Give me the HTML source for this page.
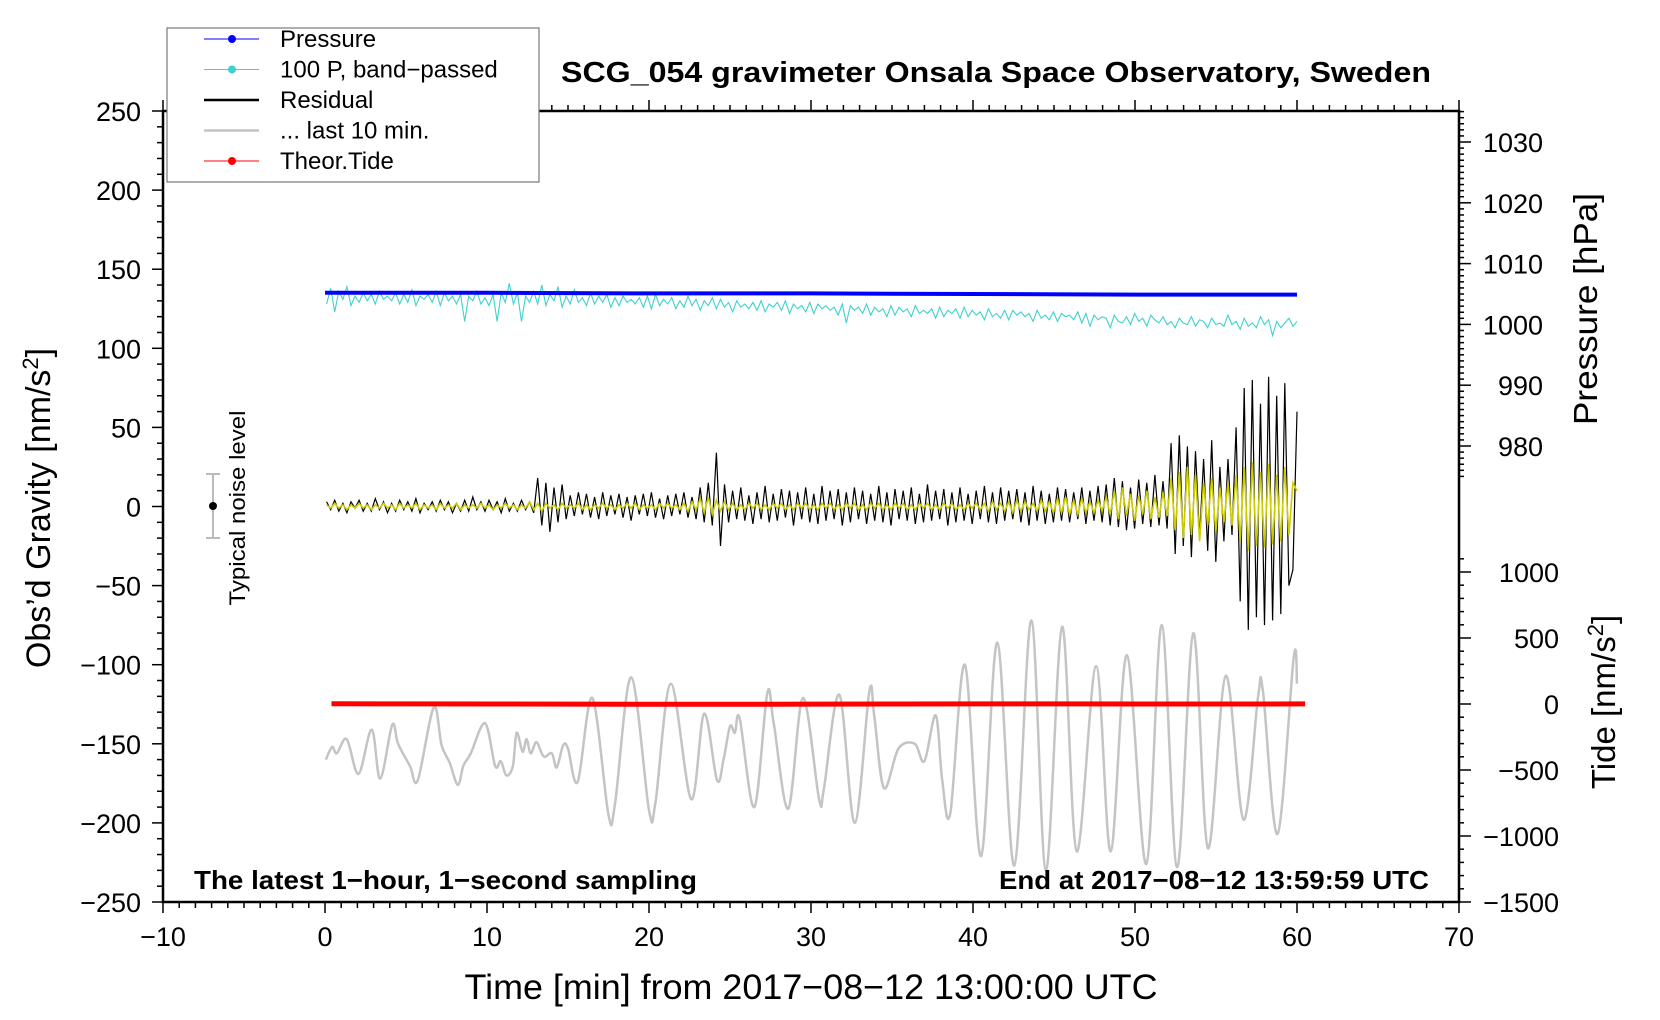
<!DOCTYPE html>
<html><head><meta charset="utf-8"><title>SCG_054 gravimeter</title>
<style>
html,body{margin:0;padding:0;background:#fff;}
svg{display:block;font-family:"Liberation Sans",Arial,sans-serif;}
</style></head>
<body>
<svg id="chart" width="1660" height="1020" viewBox="0 0 1660 1020" xmlns="http://www.w3.org/2000/svg">
<rect x="0" y="0" width="1660" height="1020" fill="#fff"/>
<g id="grid-layer"></g>
<g id="series-layer"></g>
<g id="axes-layer"></g>
<text x="996" y="82" text-anchor="middle" font-size="29" font-weight="bold" textLength="870" lengthAdjust="spacingAndGlyphs">SCG_054 gravimeter Onsala Space Observatory, Sweden</text>
<text x="811" y="999" text-anchor="middle" font-size="35" textLength="693" lengthAdjust="spacingAndGlyphs">Time [min] from 2017−08−12 13:00:00 UTC</text>
<text transform="translate(50,508) rotate(-90)" text-anchor="middle" font-size="34">Obs’d Gravity [nm/s<tspan font-size="22" dy="-12">2</tspan><tspan dy="12">]</tspan></text>
<text transform="translate(1597,309) rotate(-90)" text-anchor="middle" font-size="33" textLength="232" lengthAdjust="spacingAndGlyphs">Pressure [hPa]</text>
<text transform="translate(1615,702) rotate(-90)" text-anchor="middle" font-size="33">Tide [nm/s<tspan font-size="22" dy="-12">2</tspan><tspan dy="12">]</tspan></text>
<text x="194" y="889" font-size="26" font-weight="bold" textLength="503" lengthAdjust="spacingAndGlyphs">The latest 1−hour, 1−second sampling</text>
<text x="1429" y="889" text-anchor="end" font-size="26" font-weight="bold" textLength="430" lengthAdjust="spacingAndGlyphs">End at 2017−08−12 13:59:59 UTC</text>
<g>
<line x1="213" y1="474" x2="213" y2="538" stroke="#bbb" stroke-width="2"/>
<line x1="206" y1="474" x2="220" y2="474" stroke="#bbb" stroke-width="2"/>
<line x1="206" y1="538" x2="220" y2="538" stroke="#bbb" stroke-width="2"/>
<circle cx="213" cy="506" r="4" fill="#000"/>
<text transform="translate(245,508) rotate(-90)" text-anchor="middle" font-size="22" textLength="195" lengthAdjust="spacingAndGlyphs">Typical noise level</text>
</g>
<g id="legend">
<rect x="167" y="28" width="372" height="154" fill="#fff" stroke="#777" stroke-width="1.2"/>
</g>
</svg>
<script>
// ---- data ----
const pressureValues = [1005.2,1005.2,1005.1,1005.1,1005.0,1004.9,1004.9];
const tideValues = [2,1,0,-1,-2,-2,-1,0,1,1,0,0,1];
const residualValues = [3,-2,4,-3,2,-4,3,-1,4,-3,2,-3,5,-2,3,-4,2,-3,4,-2,3,-3,5,-4,2,-2,3,-3,4,-2,3,-4,2,-3,4,-3,6,-2,3,-3,4,-2,3,-4,5,-3,2,-3,4,-2,3,-4,
18,-12,15,-16,12,-10,14,-8,
7,-6,9,-5,8,-7,6,-8,9,-6,7,-5,8,-7,6,-9,7,-5,8,-6,9,-7,5,-8,7,-6,8,-5,9,-7,6,-8,
12,-10,15,-12,34,-25,14,-10,
10,-8,12,-9,7,-11,9,-8,13,-10,8,-9,11,-7,10,-12,9,-8,12,-10,8,-11,13,-9,10,-8,11,-12,9,-10,12,-8,10,-11,8,-9,13,-10,9,-12,11,-8,10,-9,12,-11,8,-10,14,-9,10,-8,11,-12,9,-10,12,-9,8,-11,10,-8,13,-10,9,-11,12,-9,10,-8,11,-10,9,-12,13,-9,10,-11,8,-10,12,-9,11,-10,9,-8,12,-11,10,-9,13,-10,
14,-12,18,-13,16,-15,12,-14,17,-11,15,-13,20,-12,16,-14,
40,-30,45,-25,38,-32,35,-20,30,-28,42,-35,25,-22,30,-18,
50,-60,75,-78,80,-70,65,-75,82,-72,70,-68,78,-50,-40,60];
const filteredValues = [1,-1,2,-1,1,-2,1,-1,2,-1,1,-2,1,-1,2,-1,1,-2,2,-1,1,-1,2,-2,1,-1,1,-2,2,-1,1,-1,2,-2,1,-1,1,-1,2,-1,
1,-2,1,-1,2,-1,1,-2,1,-1,3,-2,2,-3,2,-1,1,-2,2,-1,1,-1,2,-2,1,-2,1,-1,2,-1,1,-2,1,-1,2,-1,2,-2,1,-1,
1,-2,2,-1,2,-1,1,-2,2,-3,3,-2,5,-4,6,-5,4,-3,3,-2,2,-2,1,-2,2,-1,2,-2,1,-2,2,-1,2,-2,1,-2,2,-1,2,-2,
1,-2,2,-1,2,-2,1,-2,2,-1,2,-2,1,-2,2,-1,2,-2,1,-2,2,-1,2,-2,1,-2,2,-1,2,-2,1,-2,2,-1,2,-2,1,-2,2,-1,
2,-2,2,-3,3,-2,2,-3,3,-4,4,-3,3,-2,2,-3,4,-3,3,-4,5,-4,6,-5,4,-5,5,-4,3,-4,4,-3,
6,-5,10,-8,12,-6,8,-9,7,-5,10,-8,6,-7,9,-6,
18,-15,22,-20,25,-18,20,-22,15,-12,18,-16,12,-10,15,-12,
20,-22,25,-28,28,-25,22,-26,27,-24,20,-22,25,-18,15,10];
const bandPassedValues = [128,138,123,136,131,139,127,133,129,135,130,134,128,136,131,133,130,135,128,134,129,137,127,133,131,134,129,136,127,135,130,133,128,134,117,133,130,136,128,132,
127,134,117,135,129,141,128,135,117,133,129,136,128,140,127,134,130,139,126,133,128,137,129,132,127,135,128,133,129,134,126,132,127,133,129,131,128,132,126,133,
125,134,127,131,128,132,125,130,126,133,127,131,124,130,127,132,125,131,126,129,123,130,126,128,125,129,124,130,123,128,126,129,124,130,122,128,125,127,123,129,
122,128,125,127,124,126,121,128,116,127,124,126,122,128,121,126,123,125,120,127,121,126,123,125,120,127,122,124,122,125,119,126,120,124,122,125,119,126,120,124,
121,123,118,125,120,122,119,124,118,124,121,123,120,122,117,124,119,121,118,123,117,122,120,121,118,123,116,122,114,121,118,120,119,113,121,117,116,120,115,122,
117,119,114,121,118,116,120,115,117,113,119,116,115,120,114,118,117,113,119,115,116,114,121,115,117,112,119,114,116,113,120,115,118,108,117,113,116,119,114,117];
const last10Times = [0.05,0.44,0.73,1.34,2.07,2.88,3.41,4.15,4.51,5.24,5.73,6.71,7.2,7.7,8.2,8.54,9.0,9.88,10.5,10.85,11.2,11.6,11.83,12.2,12.44,12.7,13.05,13.5,14.0,14.3,14.7,15.0,15.6,16.5,17.5,17.9,18.9,20.0,20.4,21.35,22.6,23.4,24.2,24.6,25.0,25.3,25.6,26.5,27.3,27.7,28.6,29.5,30.5,30.8,31.75,32.7,33.6,33.9,34.5,35.4,36.4,37.0,37.7,38.1,38.6,39.5,40.5,41.5,42.55,43.6,44.5,45.5,46.4,47.6,48.5,49.5,50.7,51.65,52.6,53.6,54.5,55.6,56.7,57.6,57.9,58.8,59.8,60.0];
const last10Values = [-160,-152,-156,-147,-169,-141,-172,-138,-150,-164,-173,-127,-151,-162,-176,-164,-156,-137,-164,-161,-170,-164,-143,-155,-147,-156,-149,-158,-156,-165,-151,-153,-174,-121,-195,-188,-108,-192,-187,-112,-185,-131,-173,-160,-139,-143,-134,-190,-118,-137,-191,-121,-185,-178,-119,-200,-117,-132,-178,-153,-150,-161,-132,-173,-194,-100,-221,-86,-227,-72,-230,-76,-218,-101,-218,-94,-226,-75,-228,-80,-216,-107,-198,-120,-117,-207,-95,-112];
const xTickLabels = ["−10","0","10","20","30","40","50","60","70"];
const gravityTickLabels = ["250","200","150","100","50","0","−50","−100","−150","−200","−250"];
const pressureTickLabels = ["1030","1020","1010","1000","990","980"];
const tideTickLabels = ["1000","500","0","−500","−1000","−1500"];

// ---- scales ----
const NS = "http://www.w3.org/2000/svg";
const X0 = 163, X1 = 1459, Y0 = 111, Y1 = 902;
function xs(t){ return X0 + (t + 10) * (X1 - X0) / 80; }
function yg(g){ return 506.5 - g * (Y1 - Y0) / 500; }
function yp(p){ return 142 + (1030 - p) * 6.08; }
function yt(v){ return 704 - v * (Y1 - 704) / 1500; }
function num(s){ return parseFloat(s.replace("−","-")); }

const series = document.getElementById("series-layer");
const axes = document.getElementById("axes-layer");
const legend = document.getElementById("legend");

function mk(tag, attrs, parent){
  const el = document.createElementNS(NS, tag);
  for (const k in attrs) el.setAttribute(k, attrs[k]);
  parent.appendChild(el);
  return el;
}
function linePath(pts){ return pts.map((p,i)=>(i?"L":"M")+p[0].toFixed(1)+","+p[1].toFixed(1)).join(""); }
function smoothPath(pts){
  let d = "M"+pts[0][0].toFixed(1)+","+pts[0][1].toFixed(1);
  for (let i=0;i<pts.length-1;i++){
    const p0=pts[Math.max(0,i-1)], p1=pts[i], p2=pts[i+1], p3=pts[Math.min(pts.length-1,i+2)];
    const c1=[p1[0]+(p2[0]-p0[0])/6, p1[1]+(p2[1]-p0[1])/6];
    const c2=[p2[0]-(p3[0]-p1[0])/6, p2[1]-(p3[1]-p1[1])/6];
    d += "C"+c1[0].toFixed(1)+","+c1[1].toFixed(1)+" "+c2[0].toFixed(1)+","+c2[1].toFixed(1)+" "+p2[0].toFixed(1)+","+p2[1].toFixed(1);
  }
  return d;
}
function uniform(vals, t0, t1, yf){
  return vals.map((v,i)=>[xs(t0 + i*(t1-t0)/(vals.length-1)), yf(v)]);
}

let el = mk("path", {d: smoothPath(last10Times.map((t,i)=>[xs(t), yg(last10Values[i])])), fill:"none", stroke:"#c4c4c4", "stroke-width":"2.5"}, series);


el = mk("path", {d: linePath(uniform(bandPassedValues, 0.1, 60, yg)), fill:"none", stroke:"#3fd0d0", "stroke-width":"1.1"}, series);


el = mk("path", {d: linePath(uniform(pressureValues, 0, 60, yp)), fill:"none", stroke:"#0000ff", "stroke-width":"4"}, series);


el = mk("path", {d: linePath(uniform(residualValues, 0.1, 60, yg)), fill:"none", stroke:"#000", "stroke-width":"1.2"}, series);


el = mk("path", {d: linePath(uniform(filteredValues, 0.1, 60, yg)), fill:"none", stroke:"#cccc00", "stroke-width":"1.6"}, series);


el = mk("path", {d: linePath(uniform(tideValues, 0.4, 60.5, yt)), fill:"none", stroke:"#ff0000", "stroke-width":"5"}, series);



el = mk("rect", {x:X0, y:Y0, width:X1-X0, height:Y1-Y0, fill:"none", stroke:"#000", "stroke-width":"2.5"}, axes);



function tick(x1,y1,x2,y2,w){ mk("line",{x1,y1,x2,y2,stroke:"#000","stroke-width":w||1.5},axes); }
function label(txt,x,y,anchor,name){
  const t = mk("text",{x,y,"text-anchor":anchor,"font-size":"27"},axes);
  t.textContent = txt;
  
  
}
for (let m=-10;m<=70;m++){
  const major = m%10===0;
  tick(xs(m),Y1,xs(m),Y1+(major?11:6));
  tick(xs(m),Y0,xs(m),Y0-(major?11:6));
}
xTickLabels.forEach(s=>label(s, xs(num(s)), 946, "middle", "x-tick-label"));
for (let g=-250; g<=250; g+=10){
  const major = g%50===0;
  tick(X0-(major?11:6), yg(g), X0, yg(g));
}
gravityTickLabels.forEach(s=>label(s, 141, yg(num(s))+10, "end", "gravity-tick-label"));
for (let p=1035; p>=975; p--){
  const major = p%10===0;
  tick(X1, yp(p), X1+(major?12:5), yp(p));
}
pressureTickLabels.forEach(s=>label(s, 1543, yp(num(s))+10, "end", "pressure-tick-label"));
for (let v=1100; v>=-1500; v-=100){
  const major = v%500===0;
  tick(X1, yt(v), X1+(major?12:5), yt(v));
}
tideTickLabels.forEach(s=>label(s, 1559, yt(num(s))+10, "end", "tide-tick-label"));

const legendLabels = ["Pressure","100 P, band−passed","Residual","... last 10 min.","Theor.Tide"];
const legendColors = ["#0000ff","#3fd0d0","#000","#c4c4c4","#ff0000"];
const legendDots = [true,true,false,false,true];
legendLabels.forEach((s,i)=>{
  const y = 39 + i*30.5;
  const g = mk("g",{},legend);
  
  
  mk("line",{x1:204,y1:y,x2:259,y2:y,stroke:legendColors[i],"stroke-width":legendDots[i]?1:2.5},g);
  if (legendDots[i]) mk("circle",{cx:232,cy:y,r:4,fill:legendColors[i]},g);
  const t = mk("text",{x:280,y:y+8,"font-size":"24"},g);
  t.textContent = s;
});
</script>
</body></html>
